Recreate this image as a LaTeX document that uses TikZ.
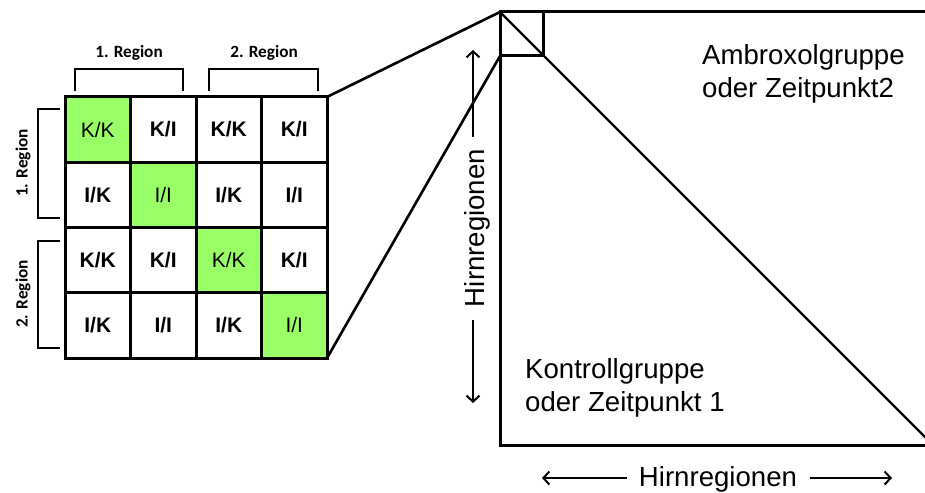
\documentclass[tikz,border=0pt]{standalone}
\usepackage{fontspec}
\setmainfont{Liberation Sans}
\newfontfamily\calibri{Carlito}
\usetikzlibrary{arrows.meta}
\definecolor{hlgreen}{RGB}{153,255,102}
\begin{document}
\begin{tikzpicture}[x=1pt,y=-1pt,
  cell/.style={draw, line width=3pt, minimum width=65.5pt, minimum height=65.3pt, inner sep=0pt, outer sep=0pt, font=\fontsize{21}{25}\selectfont\bfseries},
  hl/.style={fill=hlgreen, font=\fontsize{21}{25}\selectfont},
  brk/.style={line width=2.2pt},
  reg/.style={font=\calibri\bfseries\fontsize{17.2}{20}\selectfont, inner sep=0pt},
  big/.style={font=\fontsize{27.6}{33}\selectfont, anchor=base west, inner sep=0pt},
  axl/.style={font=\fontsize{27.6}{33}\selectfont, anchor=base, inner sep=0pt},
  frame/.style={line width=3pt},
  arr/.style={line width=2pt, -{Straight Barb[length=6pt,width=13pt]}}
]
\useasboundingbox (0,0) rectangle (925,492);
\clip (0,0) rectangle (925,492);

% grid
\node[cell,hl] (c11) at (97.75,129.6) {K/K};
\node[cell] (c12) at (163.25,129.6) {K/I};
\node[cell] (c13) at (228.75,129.6) {K/K};
\node[cell] (c14) at (294.25,129.6) {K/I};
\node[cell] (c21) at (97.75,194.9) {I/K};
\node[cell,hl] (c22) at (163.25,194.9) {I/I};
\node[cell] (c23) at (228.75,194.9) {I/K};
\node[cell] (c24) at (294.25,194.9) {I/I};
\node[cell] (c31) at (97.75,260.1) {K/K};
\node[cell] (c32) at (163.25,260.1) {K/I};
\node[cell,hl] (c33) at (228.75,260.1) {K/K};
\node[cell] (c34) at (294.25,260.1) {K/I};
\node[cell] (c41) at (97.75,325.4) {I/K};
\node[cell] (c42) at (163.25,325.4) {I/I};
\node[cell] (c43) at (228.75,325.4) {I/K};
\node[cell,hl] (c44) at (294.25,325.4) {I/I};

% brackets
\draw[brk] (75,91) -- (75,69) -- (183,69) -- (183,91);
\draw[brk] (209,91) -- (209,69) -- (318,69) -- (318,91);
\draw[brk] (60,109) -- (38,109) -- (38,218) -- (60,218);
\draw[brk] (60,241) -- (38,241) -- (38,348) -- (60,348);
\node[reg] (rt1) at (129,53) {1. Region};
\node[reg] (rt2) at (264,53) {2. Region};
\node[reg,rotate=90] (rl1) at (23,163) {1. Region};
\node[reg,rotate=90] (rl2) at (23,294) {2. Region};

% big matrix
\coordinate (apex) at (500,12);
\coordinate (sqbl) at (500,56);
\coordinate (sqbr) at (543,56);
\coordinate (sqtr) at (543,12);
\coordinate (bl) at (500,445);
\coordinate (tr) at (940,12);
\coordinate (br) at (940,445);
\coordinate (de) at (940,452);
\draw[frame] (tr) -- (apex) -- (bl) -- (br);
\draw[frame] (sqbl) -- (sqbr) -- (sqtr);
\draw[line width=2.2pt] (apex) -- (de);

% connectors
\draw[line width=2.6pt] (c14.north east) -- (apex);
\draw[line width=2.6pt] (c44.south east) -- (sqbl);

% labels
\node[big] (a1) at (702,65) {Ambroxolgruppe};
\node[big] (a2) at (702,98) {oder Zeitpunkt2};
\node[big] (k1) at (525,378) {Kontrollgruppe};
\node[big] (k2) at (525,411) {oder Zeitpunkt 1};

% axes
\node[axl] (hx) at (718,486) {Hirnregionen};
\coordinate (hxl1) at (627,478);
\coordinate (hxl2) at (542,478);
\coordinate (hxr1) at (810,478);
\coordinate (hxr2) at (892,478);
\draw[arr] (hxl1) -- (hxl2);
\draw[arr] (hxr1) -- (hxr2);

\node[axl, rotate=90] (hy) at (484,228) {Hirnregionen};
\coordinate (hyt1) at (473,137);
\coordinate (hyt2) at (473,50);
\coordinate (hyb1) at (473,320);
\coordinate (hyb2) at (473,403);
\draw[arr] (hyt1) -- (hyt2);
\draw[arr] (hyb1) -- (hyb2);
\end{tikzpicture}
\end{document}
